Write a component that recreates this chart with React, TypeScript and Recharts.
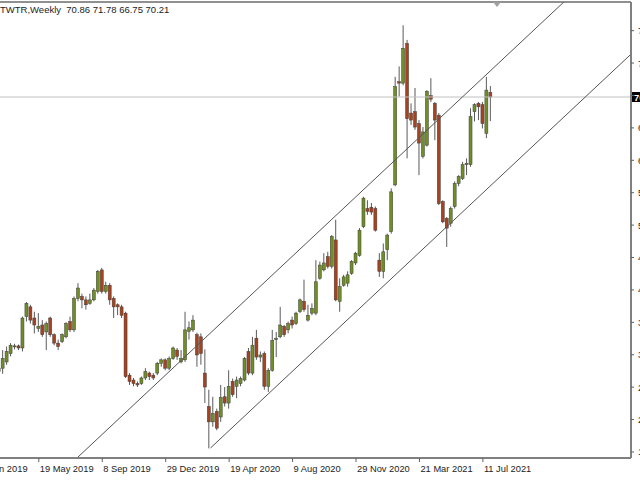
import { Bar, ComposedChart, ReferenceDot, ReferenceLine, XAxis, YAxis } from 'recharts';

// week index: 0 = week of 19 May 2019
const weeks = [
  -10, -9, -8, -7, -6, -5, -4, -3, -2, -1,
  0, 1, 2, 3, 4, 5, 6, 7, 8, 9,
  10, 11, 12, 13, 14, 15, 16, 17, 18, 19,
  20, 21, 22, 23, 24, 25, 26, 27, 28, 29,
  30, 31, 32, 33, 34, 35, 36, 37, 38, 39,
  40, 41, 42, 43, 44, 45, 46, 47, 48, 49,
  50, 51, 52, 53, 54, 55, 56, 57, 58, 59,
  60, 61, 62, 63, 64, 65, 66, 67, 68, 69,
  70, 71, 72, 73, 74, 75, 76, 77, 78, 79,
  80, 81, 82, 83, 84, 85, 86, 87, 88, 89,
  90, 91, 92, 93, 94, 95, 96, 97, 98, 99,
  100, 101, 102, 103, 104, 105, 106, 107, 108, 109,
  110, 111, 112, 113, 114,
];

const opens = [
  30.8, 31.3, 32.2, 33.4, 34.4, 34.5, 34.2, 38.7, 40.1, 38.5,
  37.0, 37.5, 36.5, 38.5, 36.1, 34.9, 35.1, 35.8, 38.0, 36.8,
  41.3, 41.6, 41.1, 40.6, 41.1, 42.3, 45.4, 42.3, 43.2, 41.3,
  40.4, 40.1, 39.2, 30.3, 29.6, 29.1, 29.1, 29.9, 30.6, 30.3,
  30.6, 32.0, 32.5, 31.3, 32.7, 33.9, 32.2, 32.5, 36.6, 36.8,
  36.1, 35.8, 30.6, 25.8, 23.6, 25.1, 24.3, 27.2, 26.3, 29.4,
  28.7, 29.1, 29.6, 33.7, 30.6, 35.6, 32.9, 33.4, 28.7, 31.0,
  35.4, 35.8, 37.3, 36.8, 38.2, 37.7, 39.4, 40.9, 38.2, 39.2,
  39.2, 44.2, 45.4, 47.3, 45.9, 49.7, 40.9, 43.2, 43.5, 44.9,
  46.4, 47.5, 51.6, 54.2, 54.4, 54.2, 46.8, 45.2, 48.3, 50.9,
  57.6, 72.4, 72.2, 77.9, 67.9, 68.1, 66.4, 61.7, 63.3, 70.4,
  69.3, 67.6, 55.2, 52.8, 52.1, 54.5, 57.8, 58.5, 60.5, 60.5,
  68.1, 69.3, 69.1, 65.0, 70.86,
];

const highs = [
  31.8, 33.9, 34.4, 34.9, 34.8, 34.7, 38.7, 40.8, 40.4, 39.4,
  39.2, 38.2, 38.0, 38.7, 36.3, 35.4, 36.3, 37.9, 38.7, 41.6,
  43.5, 42.0, 41.6, 42.0, 42.8, 45.4, 45.7, 43.7, 43.5, 41.6,
  40.6, 40.4, 39.4, 30.6, 29.9, 29.4, 30.1, 31.3, 30.8, 30.6,
  32.2, 32.7, 32.7, 33.0, 34.4, 34.2, 33.9, 39.4, 38.0, 38.9,
  36.4, 36.3, 34.0, 28.2, 27.2, 25.5, 28.9, 28.6, 31.0, 29.8,
  30.1, 30.1, 32.9, 34.2, 35.8, 36.8, 33.7, 33.7, 31.3, 36.8,
  36.5, 40.1, 37.5, 38.0, 38.7, 39.4, 41.3, 44.0, 40.4, 40.6,
  46.8, 46.6, 47.8, 48.0, 50.4, 52.6, 44.2, 44.7, 45.2, 46.8,
  48.0, 51.4, 55.9, 55.4, 55.0, 54.5, 47.8, 49.2, 50.6, 57.1,
  73.1, 74.6, 80.5, 78.4, 69.3, 71.5, 66.9, 65.9, 71.2, 72.9,
  69.5, 67.9, 55.4, 53.0, 54.5, 58.1, 59.0, 60.9, 61.4, 68.6,
  69.3, 69.5, 69.5, 73.1, 71.78,
];

const lows = [
  30.3, 30.5, 31.8, 33.0, 34.0, 33.9, 33.7, 38.0, 37.7, 36.3,
  36.5, 35.8, 33.9, 35.8, 34.6, 33.9, 34.9, 35.6, 36.5, 36.5,
  40.9, 39.9, 39.7, 40.4, 40.9, 42.0, 42.0, 42.0, 40.4, 38.5,
  38.9, 38.5, 29.9, 28.9, 28.7, 28.6, 28.9, 29.6, 29.6, 29.6,
  30.3, 31.5, 31.0, 31.0, 32.5, 32.5, 32.0, 32.2, 35.4, 36.5,
  31.5, 31.8, 26.3, 19.8, 22.9, 22.4, 23.6, 25.8, 25.5, 27.2,
  27.0, 28.7, 29.4, 30.3, 30.3, 32.5, 32.2, 28.2, 27.9, 30.8,
  32.9, 35.6, 35.8, 36.3, 37.0, 37.5, 39.2, 39.4, 38.0, 38.9,
  38.9, 44.0, 45.2, 45.6, 45.6, 40.9, 39.4, 43.0, 43.0, 44.7,
  46.1, 47.3, 51.4, 53.3, 53.3, 50.9, 44.4, 44.2, 46.8, 50.6,
  57.4, 70.3, 71.9, 61.4, 66.2, 65.5, 59.0, 61.4, 63.1, 69.5,
  64.0, 54.7, 52.1, 48.7, 51.6, 54.2, 57.4, 58.3, 59.0, 60.2,
  66.7, 66.9, 65.7, 64.3, 66.75,
];

const closes = [
  31.3, 32.7, 33.7, 34.6, 34.5, 34.2, 38.5, 40.6, 38.2, 37.5,
  37.3, 36.1, 37.7, 36.1, 34.9, 34.4, 36.1, 37.7, 36.8, 41.3,
  42.8, 41.1, 40.4, 41.1, 42.5, 45.2, 42.3, 43.2, 41.1, 40.1,
  40.1, 38.9, 30.1, 29.4, 29.1, 28.9, 29.9, 30.8, 30.1, 29.9,
  32.0, 32.5, 31.3, 32.7, 34.2, 33.0, 32.7, 36.8, 37.1, 38.2,
  33.2, 33.4, 28.6, 23.6, 24.8, 22.7, 27.1, 26.3, 28.7, 27.5,
  29.6, 29.8, 32.7, 30.6, 34.6, 32.9, 33.2, 28.7, 31.0, 35.3,
  35.6, 37.5, 36.1, 37.7, 37.5, 39.2, 41.1, 39.7, 38.9, 39.9,
  43.7, 46.1, 46.4, 45.9, 50.2, 41.1, 43.0, 44.4, 44.7, 46.6,
  47.8, 51.1, 55.7, 53.8, 53.7, 51.1, 45.2, 48.0, 50.4, 56.6,
  71.7, 72.2, 77.2, 67.1, 66.9, 65.9, 63.6, 65.2, 71.0, 69.9,
  66.9, 54.9, 52.3, 51.4, 54.2, 57.8, 58.8, 60.5, 60.7, 67.4,
  69.1, 68.8, 66.4, 71.2, 70.21,
];

const dateTicks = [-16, 0, 16, 32, 48, 64, 80, 96, 112];
const dateLabels = [
  '27 Jan 2019', '19 May 2019', '8 Sep 2019', '29 Dec 2019', '19 Apr 2020',
  '9 Aug 2020', '29 Nov 2020', '21 Mar 2021', '11 Jul 2021',
];
const priceTicks = [19.28, 23.93, 28.58, 33.23, 37.88, 42.53, 47.18, 51.83, 56.48, 61.13, 65.78, 70.43, 75.08, 79.73];

const lastPrice = 70.21;
const upperChannel = [{ x: 0, y: 13.29 }, { x: 150, y: 93.21 }];
const lowerChannel = [{ x: 43.3, y: 19.85 }, { x: 150, y: 76.7 }];

const candles = weeks.map((w, i) => ({
  w,
  open: opens[i],
  high: highs[i],
  low: lows[i],
  close: closes[i],
  range: [lows[i], highs[i]],
}));

const font = '"Liberation Sans", Arial, sans-serif';

const Candle = (props: any) => {
  const { x, y, width, height, payload } = props;
  if (!payload || height == null) return null;
  const { open, high, low, close } = payload;
  const top = Math.min(y, y + height);
  const h = Math.abs(height);
  const k = high === low ? 0 : h / (high - low);
  const py = (v: number) => top + (high - v) * k;
  const cx = x + width / 2;
  const bt = py(Math.max(open, close));
  const bb = py(Math.min(open, close));
  return (
    <g>
      <line x1={cx} x2={cx} y1={top} y2={top + h} stroke="#5a5a5a" strokeWidth={1} />
      <rect
        x={cx - 1.5}
        y={bt}
        width={3}
        height={Math.max(1, bb - bt)}
        fill={close >= open ? '#6f8f24' : '#a8421e'}
        stroke="#3c3c3c"
        strokeWidth={0.5}
      />
    </g>
  );
};

const DateTick = (props: any) => {
  const { x, y, payload } = props;
  const label = dateLabels[dateTicks.indexOf(payload.value)];
  return (
    <text x={x + 1} y={y + 8} fontSize={9.3} fontFamily={font} fill="#222" textAnchor="start">
      {label}
    </text>
  );
};

const PriceTick = (props: any) => {
  const { x, y, payload } = props;
  // the label under the last-price box is covered in the original
  if (Math.abs(payload.value - lastPrice) < 1) return null;
  return (
    <text x={x + 2} y={y + 3.5} fontSize={9.3} fontFamily={font} fill="#222" textAnchor="start">
      {payload.value.toFixed(2)}
    </text>
  );
};

const PriceBox = (props: any) => {
  const vb = props.viewBox;
  if (!vb) return null;
  const bx = vb.x + vb.width + 1;
  return (
    <g>
      <rect x={bx} y={vb.y - 5} width={36} height={10} fill="#000" />
      <text x={bx + 2} y={vb.y + 3.5} fontSize={9.3} fontFamily={font} fill="#fff" fontWeight="bold">
        {lastPrice.toFixed(2)}
      </text>
    </g>
  );
};

const ShiftMark = (props: any) => {
  const { cx, cy } = props;
  return <polygon points={`${cx - 4},${cy} ${cx + 4},${cy} ${cx},${cy + 5}`} fill="#a0a0a0" />;
};

const App = () => {
  return (
    <div
      style={{
        position: 'absolute',
        left: 0,
        top: 0,
        width: 640,
        height: 480,
        background: '#fff',
        overflow: 'hidden',
      }}
    >
      <ComposedChart width={640} height={480} data={candles} margin={{ top: 2, right: 0, bottom: 0, left: 0 }}>
        <XAxis
          type="number"
          dataKey="w"
          domain={[-9.786, 149.35]}
          allowDataOverflow
          ticks={dateTicks}
          interval={0}
          tick={<DateTick />}
          tickSize={4}
          height={22}
          axisLine={{ stroke: '#808080', strokeWidth: 2 }}
          tickLine={{ stroke: '#606060' }}
        />
        <YAxis
          orientation="right"
          type="number"
          domain={[18.416, 83.84]}
          allowDataOverflow
          ticks={priceTicks}
          interval={0}
          tick={<PriceTick />}
          tickSize={3}
          width={9}
          axisLine={{ stroke: '#808080', strokeWidth: 2 }}
          tickLine={{ stroke: '#606060' }}
        />
        <ReferenceLine y={83.84} stroke="#909090" strokeWidth={2} />
        <ReferenceLine y={lastPrice} stroke="#c0c0c0" strokeWidth={1} label={<PriceBox />} />
        <ReferenceLine segment={upperChannel} stroke="#555" strokeWidth={1} ifOverflow="hidden" />
        <ReferenceLine segment={lowerChannel} stroke="#555" strokeWidth={1} ifOverflow="hidden" />
        <Bar dataKey="range" barSize={3} shape={<Candle />} isAnimationActive={false} />
        <ReferenceDot x={115.56} y={83.84} r={4} shape={<ShiftMark />} ifOverflow="visible" />
      </ComposedChart>
      <div
        style={{
          position: 'absolute',
          left: 0,
          top: 4,
          fontFamily: font,
          fontSize: 9.5,
          color: '#222',
          whiteSpace: 'pre',
        }}
      >
        {'TWTR,Weekly  70.86 71.78 66.75 70.21'}
      </div>
    </div>
  );
};

export default App;
